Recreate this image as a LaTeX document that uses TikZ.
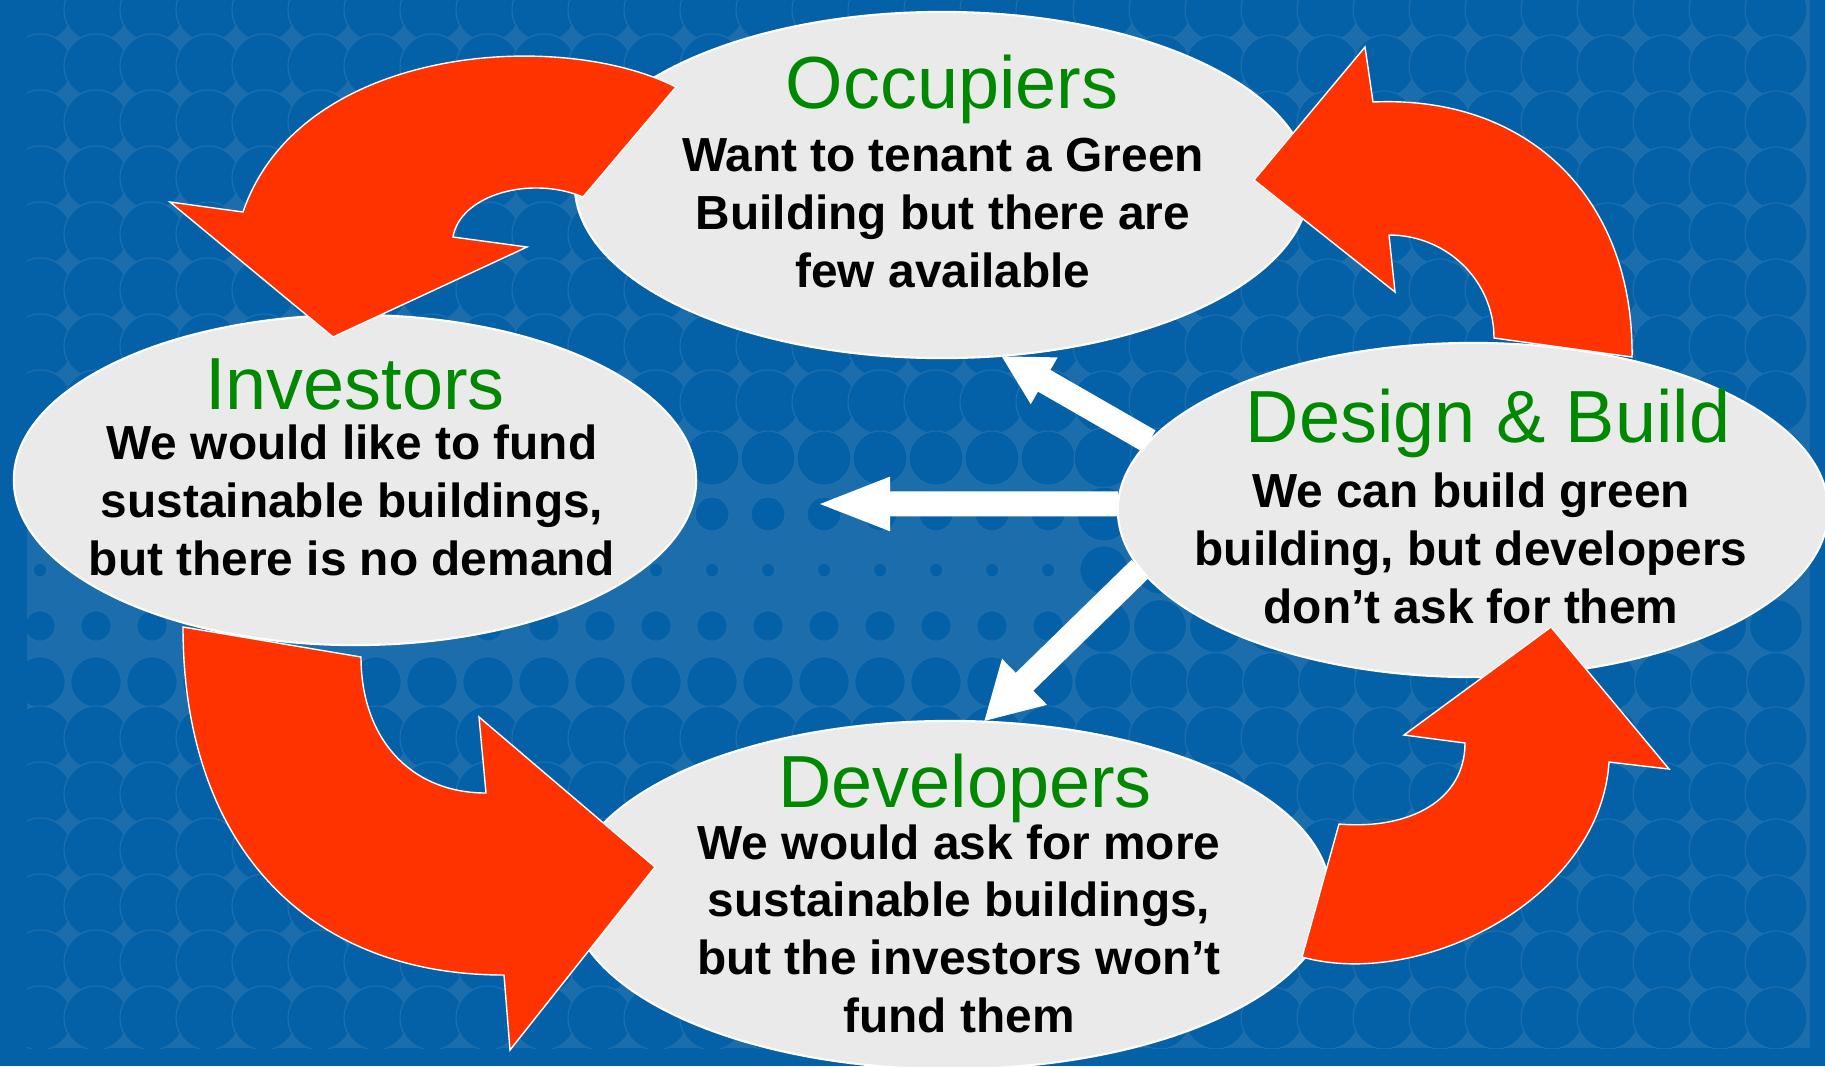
\documentclass[tikz,border=0pt]{standalone}
\usepackage{fontspec}
\setmainfont{Liberation Sans}
\usepackage{tikz}
\usetikzlibrary{positioning, arrows.meta, shapes.geometric}
\definecolor{panelblue}{HTML}{1B6DAC}
\definecolor{deepblue}{HTML}{0561A7}
\definecolor{ringblue}{HTML}{1F70AE}
\definecolor{bubblegray}{HTML}{EAEAEA}
\definecolor{titlegreen}{HTML}{008800}
\definecolor{curlred}{HTML}{FF3300}
\tikzstyle{bubble} = [ellipse, draw=white, line width=0.6pt, fill=bubblegray, 
inner sep=0pt, outer sep=0pt]
\tikzstyle{heading} = [font=\fontsize{21}{25}\selectfont, text=titlegreen, 
inner sep=0pt, anchor=base]
\tikzstyle{bodytext} = [font=\bfseries\fontsize{13.6}{16.4}\selectfont, 
align=center, inner sep=0pt, anchor=base]
\tikzstyle{pusharrow} = [line width=0.25cm, white, -{Triangle[length=0.5cm, width=0.5cm]}]
\tikzstyle{curlarrow} = [fill=curlred, draw=white, line width=0.4pt, line join=miter]

\begin{document}
\begin{tikzpicture}[x=0.01cm, y=-0.01cm]
                \useasboundingbox (0,0) rectangle (1825,1066);
                % background
                \fill[deepblue] (0,0) rectangle (1825,1066);
                \begin{scope}
                \clip (27,0) rectangle (1810,1048);
                \fill[panelblue] (27,0) rectangle (1810,1048);
                \foreach \x in {40,96,...,1810} {
                  \foreach \y in {10,66,...,1066} {
                    \pgfmathsetmacro\rad{0.2845*(\x<1100 ? min(32, 6+0.18*abs(\y-575)) : min(31, 24+0.05*abs(\y-575)))}
                    \fill[deepblue, draw=ringblue, line width=0.3pt] (\x,\y) circle[radius=\rad pt];
                  }
                }
                \end{scope}
                % the four parties
                \node (occ) [bubble, minimum width=7.34cm, minimum height=3.46cm] at (942,185) {};
                \node (inv) [bubble, minimum width=6.82cm, minimum height=3.30cm] at (355,480) {};
                \node (des) [bubble, minimum width=7.10cm, minimum height=3.34cm] at (1473,510) {};
                \node (dev) [bubble, minimum width=7.60cm, minimum height=3.48cm] at (950,895) {};
                \coordinate (gap) at (815,504);
                \draw [pusharrow] (des.168.5) -- (occ.289);
                \draw [pusharrow, -{Triangle[length=0.75cm, width=0.48cm]}] (des.179) -- (gap);
                \draw [pusharrow, -{Triangle[length=0.57cm, width=0.6cm]}] (des.190.5) -- (dev.79.5);
                % the vicious circle
                \filldraw [curlarrow] (676,87) .. controls (560,28) and (300,45) .. (243,212) -- (170,202) -- (333,337)
                        -- (527,247) -- (453,237) .. controls (460,195) and (530,175) .. (583,197) -- cycle;
                \filldraw [curlarrow] (1632,357) .. controls (1634,200) and (1530,95) .. (1373,102) -- (1365,47) -- (1254,180)
                        -- (1395,292) -- (1389,235) .. controls (1447,235) and (1494,281) .. (1494,338) -- cycle;
                \filldraw [curlarrow] (183,627) .. controls (183,843) and (305,975) .. (504,975) -- (510,1050) -- (655,867)
                        -- (479,717) -- (486,793) .. controls (411,793) and (361,739) .. (361,657) -- cycle;
                \filldraw [curlarrow] (1302,957) .. controls (1420,990) and (1600,900) .. (1609,762) -- (1669,769) -- (1551,627)
                        -- (1404,735) -- (1465,743) .. controls (1465,800) and (1410,830) .. (1339,824) -- cycle;
                % texts
                \node (occ-title) [heading] at (952,108) {Occupiers};
                \node (occ-text) [bodytext] at (943,287) {Want to tenant a Green\\Building but there are\\few available};
                \node (inv-title) [heading] at (355,409) {Investors};
                \node (inv-text) [bodytext] at (352,575) {We would like to fund\\sustainable buildings,\\but there is no demand};
                \node (des-title) [heading] at (1488,442) {Design \& Build};
                \node (des-text) [bodytext] at (1471,623) {We can build green\\building, but developers\\don’t ask for them};
                \node (dev-title) [heading] at (965,807) {Developers};
                \node (dev-text) [bodytext] at (959,1032) {We would ask for more\\sustainable buildings,\\but the investors won’t\\fund them};
\end{tikzpicture}
\end{document}
